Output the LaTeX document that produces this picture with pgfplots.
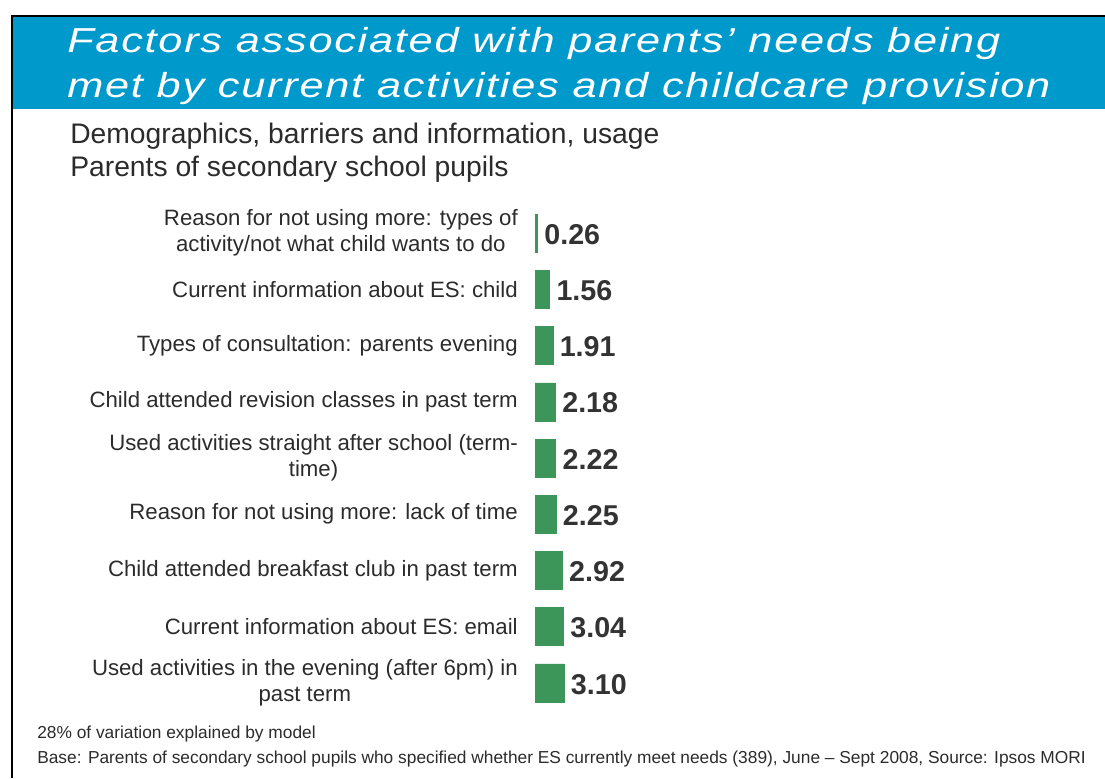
\documentclass[border=0pt]{standalone}
\usepackage{fontspec}
\setmainfont{Liberation Sans}
\newfontfamily\titlefont[LetterSpace=5,FakeStretch=1.25]{Liberation Sans}
\usepackage{pgfplots}
\pgfplotsset{compat=1.18}
\definecolor{banner}{HTML}{0099CC}
\definecolor{bargreen}{HTML}{3C965A}
\definecolor{txt}{HTML}{2B2B2B}
\definecolor{valtxt}{HTML}{333333}
\begin{document}
\begin{tikzpicture}[x=0.75pt,y=0.75pt]
\useasboundingbox (0,0) rectangle (1105,778);
% banner
\fill[banner] (13,669) rectangle (1105,762);
\draw[black,line width=1.5pt] (12,0) -- (12,762) -- (1106,762);
\node[anchor=base west,inner sep=0,text=white,font=\titlefont\itshape\fontsize{26}{30}\selectfont] at (67,778-53) {Factors associated with parents’ needs being};
\node[anchor=base west,inner sep=0,text=white,font=\titlefont\itshape\fontsize{26}{30}\selectfont] at (67,778-98) {met by current activities and childcare provision};
% subtitle
\node[anchor=base west,inner sep=0,text=txt,font=\fontsize{21.2}{24}\selectfont] at (70,778-144) {Demographics, barriers and information, usage};
\node[anchor=base west,inner sep=0,text=txt,font=\fontsize{21.2}{24}\selectfont] at (70,778-177) {Parents of secondary school pupils};
% footer
\node[anchor=base west,inner sep=0,text=txt,font=\fontsize{13}{15}\selectfont] at (37,778-738) {28\% of variation explained by model};
\node[anchor=base west,inner sep=0,text=txt,font=\fontsize{13}{15}\selectfont] at (37,778-763) {Base: Parents of secondary school pupils who specified whether ES currently meet needs (389), June – Sept 2008, Source: Ipsos MORI};
\begin{axis}[
  at={(401.25pt,50.25pt)}, anchor=south west,
  scale only axis, width=70.125pt, height=379.5pt,
  xbar, bar width=28.5pt,
  xmin=0, xmax=10, ymin=-0.5, ymax=8.5,
  y dir=reverse,
  axis line style={draw=none},
  major tick length=0pt,
  xtick=\empty,
  ytick={0,...,8},
  yticklabels={{Reason for not using more: types of\\activity/not what child wants to do},
    {Current information about ES: child},
    {Types of consultation: parents evening},
    {Child attended revision classes in past term},
    {Used activities straight after school (term-\\time)},
    {Reason for not using more: lack of time},
    {Child attended breakfast club in past term},
    {Current information about ES: email},
    {Used activities in the evening (after 6pm) in\\past term}},
  yticklabel style={align=center, anchor=east, inner sep=0pt, xshift=-12.75pt, text=txt, font=\fontsize{16.65}{19.5}\selectfont},
  nodes near coords={\pgfmathprintnumber[fixed,zerofill,precision=2,assume math mode=true]{\pgfplotspointmeta}},
  nodes near coords style={anchor=west, inner sep=0pt, xshift=5pt, yshift=-1pt, text=valtxt, font=\bfseries\fontsize{21.5}{24}\selectfont},
  point meta=explicit,
  clip=false,
]
\addplot[fill=bargreen, draw=bargreen] table[x=v, y=i, meta=v] {
i v
0 0.26
1 1.56
2 1.91
3 2.18
4 2.22
5 2.25
6 2.92
7 3.04
8 3.10
};
\end{axis}
\end{tikzpicture}
\end{document}
